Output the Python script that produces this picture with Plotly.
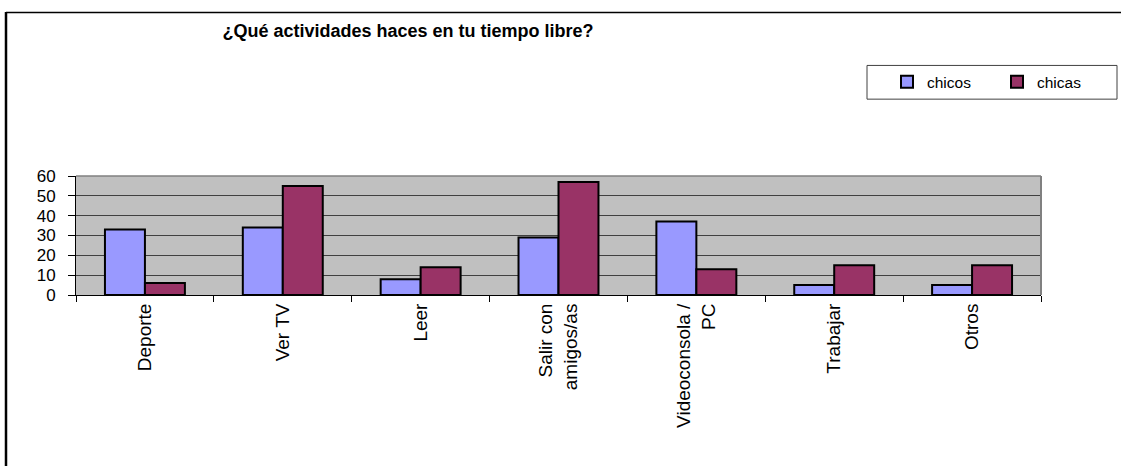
import plotly.graph_objects as go

categories = ["Deporte", "Ver TV", "Leer", "Salir con<br>amigos/as", "Videoconsola /<br>PC", "Trabajar", "Otros"]
chicos = [33, 34, 8, 29, 37, 5, 5]
chicas = [6, 55, 14, 57, 13, 15, 15]
y_ticks = [0, 10, 20, 30, 40, 50, 60]
title_text = "¿Qué actividades haces en tu tiempo libre?"

W, H = 1121, 468
L, R, T, B = 76, 1041, 175.5, 295.5
pw, ph = R - L, B - T

def px(x):
    return (x - L) / pw

def py(y):
    return (B - y) / ph

fig = go.Figure()
fig.add_trace(go.Bar(name="chicos", x=categories, y=chicos,
                     marker=dict(color="#9999FF", line=dict(color="black", width=2))))
fig.add_trace(go.Bar(name="chicas", x=categories, y=chicas,
                     marker=dict(color="#993366", line=dict(color="black", width=2))))

fig.update_layout(
    width=W, height=H,
    margin=dict(l=L, r=W - R, t=T, b=H - B, pad=0, autoexpand=False),
    paper_bgcolor="white", plot_bgcolor="#C0C0C0",
    barmode="group", bargap=0.42, bargroupgap=0,
    font=dict(family="Liberation Sans, Arial, sans-serif", color="black"),
    showlegend=True,
    legend=dict(orientation="h", x=px(887), y=py(81), xanchor="left", yanchor="middle",
                bgcolor="rgba(0,0,0,0)", borderwidth=0, font=dict(size=15.5),
                entrywidth=65, entrywidthmode="pixels", traceorder="normal"),
    title=dict(text="<b>" + title_text + "</b>", x=408 / W, xanchor="center",
               y=1 - 31 / H, yanchor="middle", font=dict(size=18)),
)
fig.update_yaxes(range=[0, 60], tickvals=y_ticks, showgrid=True, gridcolor="#404040", gridwidth=1.2,
                 showline=True, linecolor="black", linewidth=1, ticks="outside", ticklen=7,
                 tickcolor="black", tickfont=dict(size=17), ticklabelstandoff=9,
                 zeroline=False, fixedrange=True)
fig.update_xaxes(showline=True, linecolor="black", linewidth=1, ticks="outside", ticklen=6,
                 tickcolor="black", tickson="boundaries", tickangle=-90, tickfont=dict(size=19),
                 showgrid=False, fixedrange=True)

# plot-area border on top and right (gray)
fig.add_shape(type="line", xref="paper", yref="paper", x0=1, x1=1, y0=0, y1=1,
              line=dict(color="#808080", width=2))
fig.add_shape(type="line", xref="paper", yref="paper", x0=0, x1=1, y0=1, y1=1,
              line=dict(color="#808080", width=1.5))
# legend box
fig.add_shape(type="rect", xref="paper", yref="paper", x0=px(867), x1=px(1117), y0=py(98), y1=py(64),
              line=dict(color="#404040", width=1), fillcolor="rgba(0,0,0,0)")
# outer frame (top and left visible)
fig.add_shape(type="line", xref="paper", yref="paper", x0=px(6), x1=px(1121), y0=py(10.5), y1=py(10.5),
              line=dict(color="black", width=1.5))
fig.add_shape(type="line", xref="paper", yref="paper", x0=px(6), x1=px(6), y0=py(10), y1=py(468),
              line=dict(color="black", width=2.5))

fig.write_html("out.html", config={"displayModeBar": False},
               post_script="document.body.style.margin='0';")
